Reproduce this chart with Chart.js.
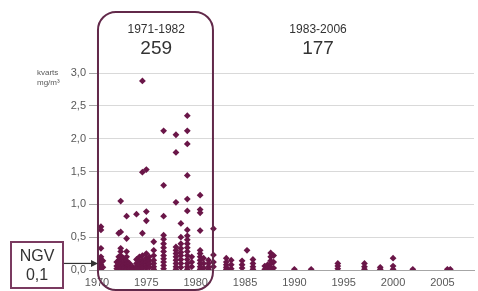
<!DOCTYPE html>
<html>
<head>
<meta charset="utf-8">
<script src="https://cdn.jsdelivr.net/npm/chart.js@4/dist/chart.umd.min.js"></script>
<style>
  html, body { margin: 0; padding: 0; background: #fff; }
  #c { display: block; }
</style>
</head>
<body>
<canvas id="c" width="478" height="291"></canvas>
<script>
const PLUM = '#6a1648'
const FRAME = '#62294a'
const NGV_EDGE = '#7a3a60'
const GRID = '#d9d9d9'
const AXIS = '#a6a6a6'
const TICK = '#595959'
const TEXT = '#333333'
const FONT = '"Liberation Sans", Arial, sans-serif'

// measurements, one list of values per x position (year)
const earlyYears = [1970.4, 1970.6, 1972.0, 1972.2, 1972.4, 1972.7, 1973.0, 1973.3, 1973.6,
  1974.0, 1974.3, 1974.6, 1975.0, 1975.3, 1975.75, 1976.75, 1978.0, 1978.5, 1979.15,
  1979.6, 1980.45, 1980.8, 1981.3, 1981.8]
const earlyValues = [
  [0.66, 0.61, 0.33, 0.2, 0.16, 0.12, 0.08, 0.05, 0.02],
  [0.14, 0.04],
  [0.12, 0.06, 0.02],
  [0.56, 0.2, 0.15, 0.1, 0.05],
  [1.05, 0.58, 0.33, 0.28, 0.22, 0.17, 0.12, 0.08, 0.03],
  [0.18, 0.12, 0.07, 0.03],
  [0.82, 0.48, 0.28, 0.2, 0.14, 0.09, 0.04, 0.01],
  [0.1, 0.06, 0.02],
  [0.05, 0.01],
  [0.85, 0.16, 0.1, 0.05, 0.02],
  [0.2, 0.13, 0.08, 0.03],
  [2.88, 1.49, 0.56, 0.22, 0.15, 0.1, 0.06, 0.02],
  [1.53, 0.89, 0.75, 0.25, 0.18, 0.12, 0.07, 0.03],
  [0.2, 0.14, 0.09, 0.04],
  [0.43, 0.3, 0.22, 0.15, 0.1, 0.05, 0.01],
  [2.12, 1.29, 0.82, 0.53, 0.47, 0.4, 0.34, 0.28, 0.22, 0.17, 0.12, 0.07, 0.02],
  [2.06, 1.79, 1.03, 0.35, 0.3, 0.25, 0.2, 0.15, 0.1, 0.05, 0.01],
  [0.71, 0.5, 0.4, 0.33, 0.27, 0.22, 0.16, 0.1, 0.04],
  [2.35, 2.12, 1.92, 1.44, 1.08, 0.9, 0.61, 0.52, 0.46, 0.4, 0.34, 0.28, 0.22, 0.16, 0.1, 0.05, 0.01],
  [0.2, 0.12, 0.05],
  [1.14, 0.92, 0.87, 0.6, 0.3, 0.25, 0.2, 0.15, 0.1, 0.05, 0.01],
  [0.18, 0.1, 0.03],
  [0.15, 0.1, 0.05, 0.01],
  [0.63, 0.23, 0.12, 0.05],
]
const lateYears = [1983.1, 1983.6, 1984.7, 1985.2, 1985.8, 1987.0, 1987.3, 1987.6, 1987.9,
  1990.0, 1991.7, 1994.4, 1997.1, 1998.7, 2000.0, 2002.0, 2005.5, 2005.8]
const lateValues = [
  [0.18, 0.12, 0.08, 0.04, 0.01],
  [0.15, 0.08, 0.02],
  [0.14, 0.08, 0.03],
  [0.3],
  [0.16, 0.1, 0.05, 0.01],
  [0.06, 0.01],
  [0.08, 0.02],
  [0.26, 0.2, 0.14, 0.09, 0.04, 0.01],
  [0.22, 0.12, 0.03],
  [0.01],
  [0.01],
  [0.1, 0.06, 0.02],
  [0.1, 0.05, 0.01],
  [0.04, 0.01],
  [0.18, 0.06, 0.01],
  [0.01],
  [0.01],
  [0.01],
]

const xTickYears = [1970, 1975, 1980, 1985, 1990, 1995, 2000, 2005]
const periodNames = ['1971-1982', '1983-2006']
const periodCounts = ['259', '177']
const periodCenters = [1976, 1992.4]
const boxSpan = [1970.1, 1981.75]
const ngvLabel = ['NGV', '0,1']
const ngvValue = 0.1

function toPoints(years, values) {
  return years.flatMap((yr, i) => values[i].map(v => ({ x: yr, y: v })))
}

const overlay = {
  id: 'overlay',
  afterDatasetsDraw(chart) {
    const { ctx, scales: { x, y } } = chart
    ctx.save()

    // rounded frame round the first period
    const bx0 = x.getPixelForValue(boxSpan[0])
    const bx1 = x.getPixelForValue(boxSpan[1])
    ctx.strokeStyle = FRAME
    ctx.lineWidth = 2
    ctx.beginPath()
    ctx.roundRect(bx0, 12, bx1 - bx0, chart.height - 13, 18)
    ctx.stroke()

    // period headings
    ctx.fillStyle = TEXT
    ctx.textAlign = 'center'
    ctx.textBaseline = 'middle'
    periodNames.forEach((name, i) => {
      const cx = x.getPixelForValue(periodCenters[i])
      ctx.font = `12px ${FONT}`
      ctx.fillText(name, cx, 30)
      ctx.font = `19px ${FONT}`
      ctx.fillText(periodCounts[i], cx, 49)
    })

    // axis unit
    ctx.fillStyle = TICK
    ctx.textAlign = 'left'
    ctx.font = `8px ${FONT}`
    ctx.fillText('kvarts', 37, 73)
    ctx.fillText('mg/m³', 37, 83)

    // NGV box and arrow
    const ay = y.getPixelForValue(ngvValue)
    ctx.fillStyle = '#fff'
    ctx.strokeStyle = NGV_EDGE
    ctx.lineWidth = 2
    ctx.fillRect(11, 242, 52, 46)
    ctx.strokeRect(11, 242, 52, 46)
    ctx.fillStyle = TEXT
    ctx.textAlign = 'center'
    ctx.font = `16px ${FONT}`
    ctx.fillText(ngvLabel[0], 37, 257)
    ctx.fillText(ngvLabel[1], 37, 276)

    const ax1 = x.left + 1
    ctx.strokeStyle = '#333'
    ctx.lineWidth = 1.2
    ctx.beginPath()
    ctx.moveTo(64, ay)
    ctx.lineTo(ax1 - 4, ay)
    ctx.stroke()
    ctx.fillStyle = '#333'
    ctx.beginPath()
    ctx.moveTo(ax1, ay)
    ctx.lineTo(ax1 - 7, ay - 3.5)
    ctx.lineTo(ax1 - 7, ay + 3.5)
    ctx.closePath()
    ctx.fill()

    ctx.restore()
  },
}

const marker = {
  backgroundColor: PLUM,
  borderColor: PLUM,
  borderWidth: 0,
  pointStyle: 'rectRot',
  pointRadius: 3.4,
}

new Chart(document.getElementById('c'), {
  type: 'scatter',
  data: {
    datasets: [
      { data: toPoints(earlyYears, earlyValues), ...marker },
      { data: toPoints(lateYears, lateValues), ...marker },
    ],
  },
  options: {
    responsive: false,
    animation: false,
    layout: { padding: { top: 73, right: 0, left: 0, bottom: 0 } },
    plugins: { legend: { display: false }, tooltip: { enabled: false } },
    scales: {
      x: {
        type: 'linear',
        min: 1970,
        max: 2008.2,
        afterFit: (s) => { s.height = 21 },
        afterBuildTicks: (s) => { s.ticks = xTickYears.map(v => ({ value: v })) },
        grid: { display: false, drawTicks: false, tickLength: 0 },
        border: { display: true, color: AXIS, width: 1 },
        ticks: {
          padding: 6,
          autoSkip: false,
          color: TICK,
          font: { family: FONT, size: 11 },
          maxRotation: 0,
          callback: (v) => String(Math.round(v)),
        },
      },
      y: {
        min: 0,
        max: 3,
        afterFit: (s) => { s.width = 97 },
        grid: { color: GRID, tickColor: AXIS, tickLength: 8 },
        border: { display: true, color: AXIS },
        ticks: {
          stepSize: 0.5,
          padding: 3,
          color: TICK,
          font: { family: FONT, size: 11 },
          callback: (v) => v.toFixed(1).replace('.', ','),
        },
      },
    },
  },
  plugins: [overlay],
})
</script>
</body>
</html>
